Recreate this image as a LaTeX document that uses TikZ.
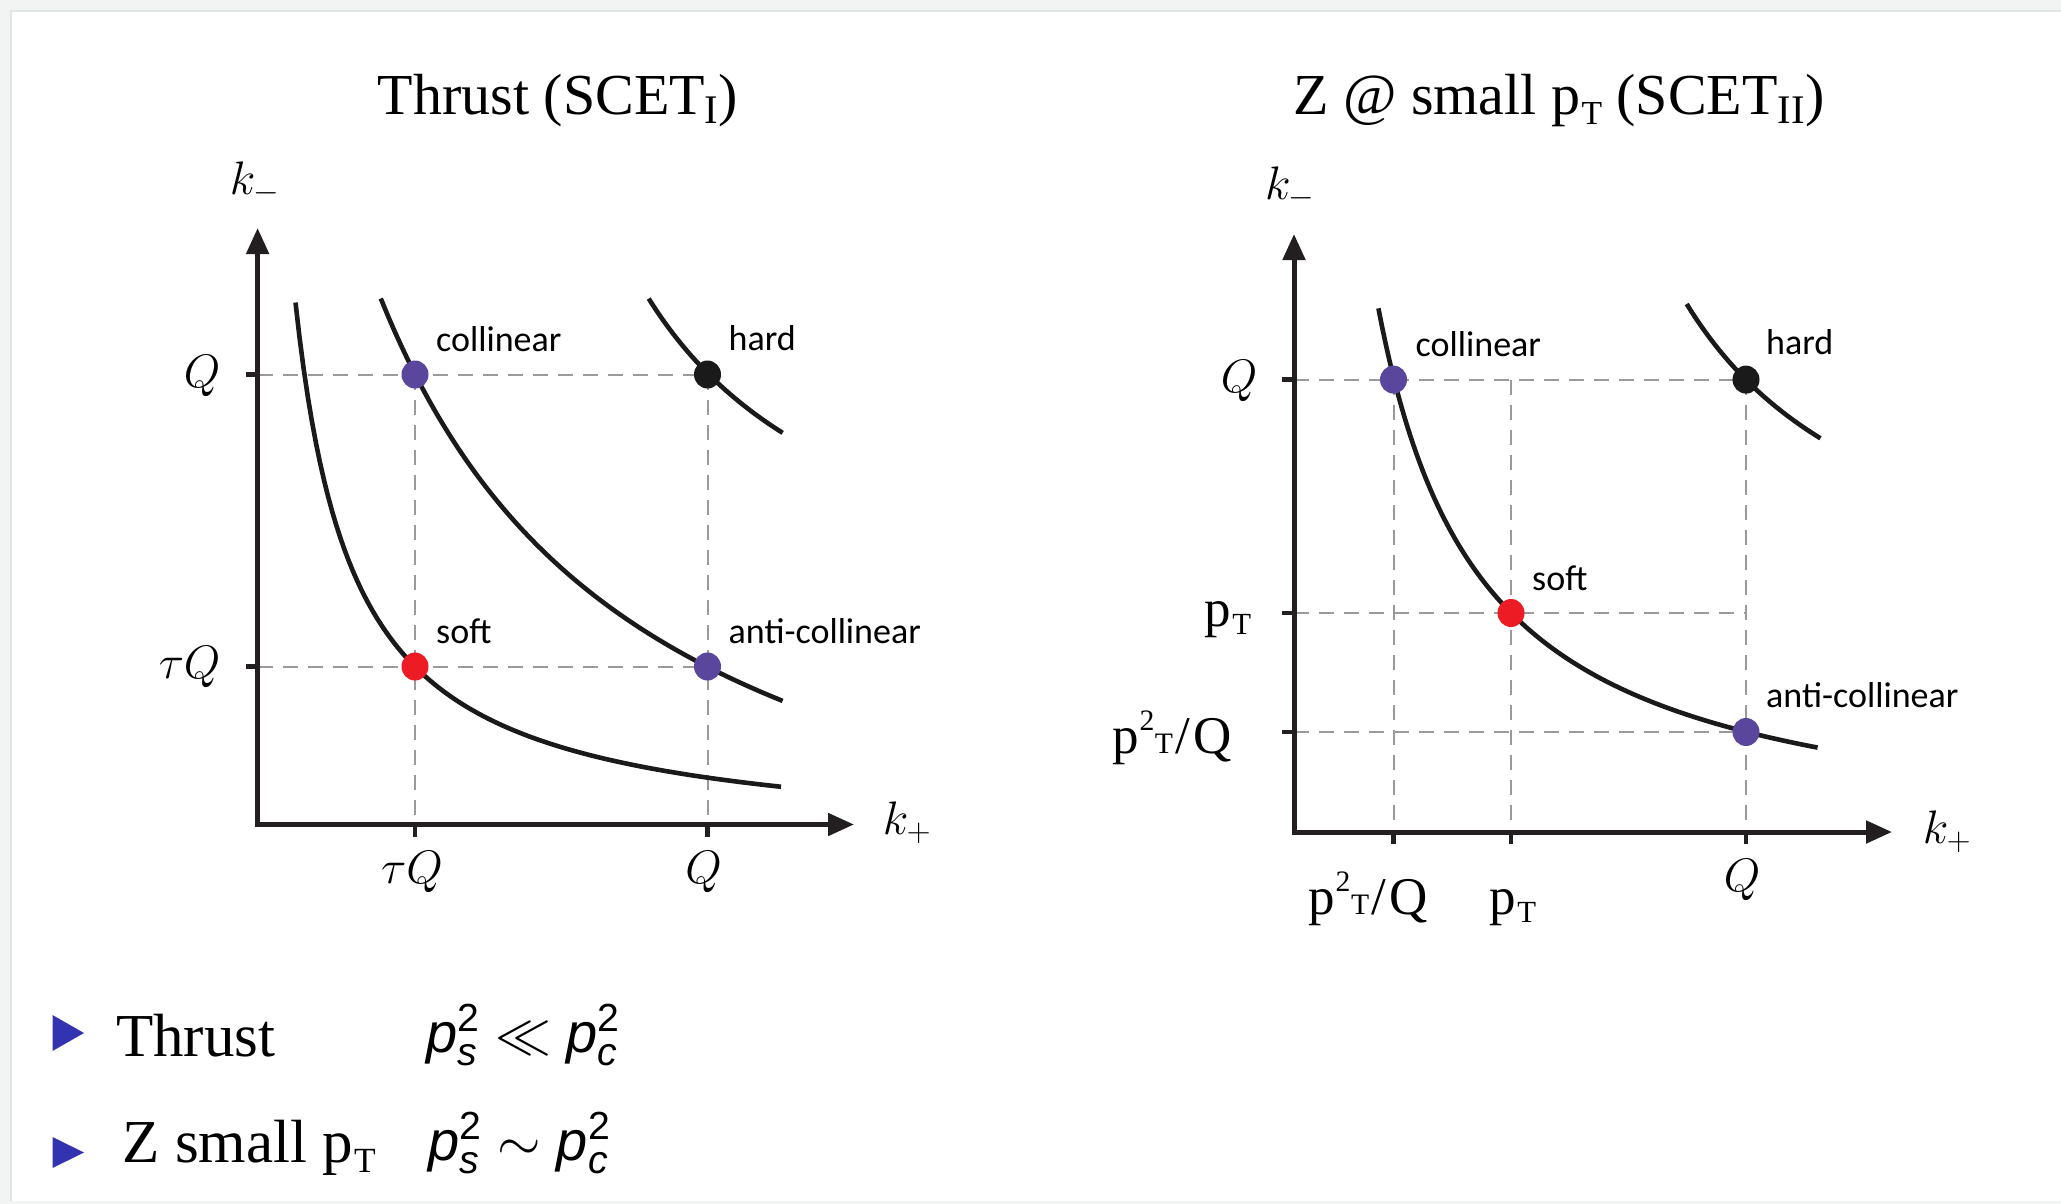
\RequirePackage{fix-cm}
\documentclass[tikz,border=0pt]{standalone}
\usepackage{amsmath}
\usepackage{graphicx}
\usepackage{fontspec}
\setmainfont{Liberation Serif}
\newfontfamily\labfont{Carlito}
\newfontfamily\msans{Liberation Sans}
\usetikzlibrary{arrows.meta,shapes.geometric}
\definecolor{axiscol}{HTML}{231F20}
\definecolor{curvecol}{HTML}{1A1A1A}
\definecolor{guidegray}{HTML}{9A9A9A}
\definecolor{dotpurple}{HTML}{5A469C}
\definecolor{dotred}{HTML}{ED1C24}
\definecolor{dotblack}{HTML}{1A1A1A}
\definecolor{bulletblue}{HTML}{3333B2}
\definecolor{bggray}{HTML}{F2F4F4}
\definecolor{edgegray}{HTML}{E2E5E5}
\tikzset{
  axisline/.style={line width=5pt, draw=axiscol, line join=miter,
    arrows={Triangle[length=26pt,width=22pt]-Triangle[length=26pt,width=22pt]}},
  tickmark/.style={line width=4.5pt, draw=axiscol},
  guide/.style={draw=guidegray, line width=2pt, dash pattern=on 15pt off 10pt},
  curve/.style={line width=4.6pt, draw=curvecol},
  dot/.style={ellipse, minimum width=27pt, minimum height=28pt, inner sep=0pt},
  lab/.style={font=\labfont\fontsize{36}{40}\selectfont, anchor=west, inner sep=0pt},
  mlab/.style={font=\fontsize{47}{50}\selectfont, inner sep=0pt},
  slab/.style={font=\fontsize{53}{56}\selectfont, inner sep=0pt},
  titletext/.style={font=\fontsize{58}{62}\selectfont, anchor=base, inner sep=0pt},
  bullettext/.style={font=\fontsize{61}{66}\selectfont, anchor=base west, inner sep=0pt},
  bulletmath/.style={font=\fontsize{56}{60}\selectfont, anchor=base west, inner sep=0pt},
}
% p_T style subscript: small T, slightly lowered
\newcommand{\subT}{\kern0.02em\raisebox{-0.16em}{\scalebox{0.58}{T}}}
% p^2 T / Q label
\newcommand{\ptsq}{p\kern0.02em\raisebox{0.42em}{\scalebox{0.56}{2}}\kern0.01em\scalebox{0.56}{T}\kern0.05em/\kern0.06em Q}
\newcommand{\sfv}[1]{\text{\msans\itshape #1}}
\newcommand{\sfn}[1]{\text{\msans #1}}
\begin{document}
\begin{tikzpicture}[x=1pt,y=-1pt]
\useasboundingbox (0,0) rectangle (2061,1204);
\fill[bggray] (0,0) rectangle (2061,1204);
\fill[white] (12,12) rectangle (2061,1201);
\draw[edgegray, line width=2pt] (11,1201) -- (11,11) -- (2061,11);

% ================= LEFT PLOT =================
\node[titletext] (t1) at (558,115) {Thrust (SCET\textsubscript{I})};
\coordinate (O1) at (257.6,824.5);
\coordinate (Y1) at (257.6,228);
\coordinate (X1) at (854,824.5);
\coordinate (c1) at (415,374.5);
\coordinate (h1) at (707.5,374.5);
\coordinate (s1) at (415,666.5);
\coordinate (a1) at (707.5,666.5);
\coordinate (yq1) at (257.6,374.5);
\coordinate (ytq1) at (257.6,666.5);
\coordinate (xtq1) at (415,824.5);
\coordinate (xq1) at (707.5,824.5);
% guides
\draw[guide] (yq1) -- (h1);
\draw[guide] (ytq1) -- (a1);
\draw[guide] (c1) -- (xtq1);
\draw[guide] (h1) -- (xq1);
% axes
\draw[axisline] (Y1) -- (O1) -- (X1);
\draw[tickmark] (yq1) -- ++(-12,0);
\draw[tickmark] (ytq1) -- ++(-12,0);
\draw[tickmark] (xtq1) -- ++(0,12);
\draw[tickmark] (xq1) -- ++(0,12);
% curves
\draw[curve] plot[domain=37.9:523.4, samples=120] ({257.6+\x},{824.5-(318/(\x+20.7)*100-20.7)});
\draw[curve] plot[domain=123.2:525, samples=100] ({257.6+\x},{824.5-(1818.5/(\x+147)*100-147)});
\draw[curve] plot[domain=391.1:525, samples=60] ({257.6+\x},{824.5-(816/(\x-165)*100+165)});
% dots
\node[dot, fill=dotpurple] (c1d) at (c1) {};
\node[dot, fill=dotblack] (h1d) at (h1) {};
\node[dot, fill=dotred] (s1d) at (s1) {};
\node[dot, fill=dotpurple] (a1d) at (a1) {};
\node[lab] (c1l) at ([shift={(21,-35)}]c1) {collinear};
\node[lab] (h1l) at ([shift={(21,-36)}]h1) {hard};
\node[lab] (s1l) at ([shift={(21,-35)}]s1) {soft};
\node[lab] (a1l) at ([shift={(21,-35)}]a1) {anti-collinear};
% axis labels
\node[mlab] (km1) at (255,183) {$k_-$};
\node[mlab] (kp1) at (907,823) {$k_+$};
\node[mlab] (lq1) at (202,376) {$Q$};
\node[mlab] (ltq1) at (189.6,666.7) {$\tau Q$};
\node[mlab] (bxtq1) at (412,871.7) {$\tau Q$};
\node[mlab] (bxq1) at (703.5,871.7) {$Q$};

% ================= RIGHT PLOT =================
\node[titletext] (t2) at (1559,115) {Z @ small p\subT{} (SCET\textsubscript{II})};
\coordinate (O2) at (1294,832);
\coordinate (Y2) at (1294,234);
\coordinate (X2) at (1892,832);
\coordinate (c2) at (1393.5,379.6);
\coordinate (h2) at (1746,379.6);
\coordinate (s2) at (1511,613);
\coordinate (a2) at (1746,732);
\coordinate (m2) at (1511,379.6);
\coordinate (r2) at (1746,613);
\coordinate (yq2) at (1294,379.6);
\coordinate (ypt2) at (1294,613);
\coordinate (yp22) at (1294,732);
\coordinate (xp22) at (1393.5,832);
\coordinate (xpt2) at (1511,832);
\coordinate (xq2) at (1746,832);
% guides
\draw[guide] (yq2) -- (h2);
\draw[guide] (ypt2) -- (r2);
\draw[guide] (yp22) -- (a2);
\draw[guide] (c2) -- (xp22);
\draw[guide] (m2) -- (xpt2);
\draw[guide] (h2) -- (xq2);
% axes
\draw[axisline] (Y2) -- (O2) -- (X2);
\draw[tickmark] (yq2) -- ++(-12,0);
\draw[tickmark] (ypt2) -- ++(-12,0);
\draw[tickmark] (yp22) -- ++(-12,0);
\draw[tickmark] (xp22) -- ++(0,12);
\draw[tickmark] (xpt2) -- ++(0,12);
\draw[tickmark] (xq2) -- ++(0,12);
% curves
\draw[curve] plot[domain=84.4:523.6, samples=120] ({1294+\x},{832-(565/(\x+19.6)*100-19.6)});
\draw[curve] plot[domain=392.7:526.4, samples=60] ({1294+\x},{832-(745.84/(\x-179)*100+179)});
% dots
\node[dot, fill=dotpurple] (c2d) at (c2) {};
\node[dot, fill=dotblack] (h2d) at (h2) {};
\node[dot, fill=dotred] (s2d) at (s2) {};
\node[dot, fill=dotpurple] (a2d) at (a2) {};
\node[lab] (c2l) at ([shift={(22,-35)}]c2) {collinear};
\node[lab] (h2l) at ([shift={(20,-37)}]h2) {hard};
\node[lab] (s2l) at ([shift={(21,-35)}]s2) {soft};
\node[lab] (a2l) at ([shift={(20,-37)}]a2) {anti-collinear};
% axis labels
\node[mlab] (km2) at (1290,188) {$k_-$};
\node[mlab] (kp2) at (1947,832) {$k_+$};
\node[mlab] (lq2) at (1239,381) {$Q$};
\node[slab, anchor=base] (lpt2) at (1228,626) {p\subT};
\node[slab, anchor=base] (lp22) at (1172,753) {\ptsq};
\node[slab, anchor=base] (bxp22) at (1368,914) {\ptsq};
\node[slab, anchor=base] (bxpt2) at (1513,914) {p\subT};
\node[mlab] (bxq2) at (1742,879.6) {$Q$};

% ================= BULLETS =================
\fill[bulletblue] (52.5,1015) -- (52.5,1051) -- (84,1033) -- cycle;
\fill[bulletblue] (52.5,1137) -- (52.5,1168) -- (84,1152.5) -- cycle;
\node[bullettext] (b1) at (116,1056) {Thrust};
\node[bulletmath] (e1) at (426,1052) {$\sfv{p}^{\sfn{2}}_{\sfv{s}}\ll\sfv{p}^{\sfn{2}}_{\sfv{c}}$};
\node[bullettext] (b2) at (122.4,1162.3) {Z small p\subT};
\node[bulletmath] (e2) at (428.6,1160) {$\sfv{p}^{\sfn{2}}_{\sfv{s}}\sim\sfv{p}^{\sfn{2}}_{\sfv{c}}$};
\end{tikzpicture}
\end{document}
